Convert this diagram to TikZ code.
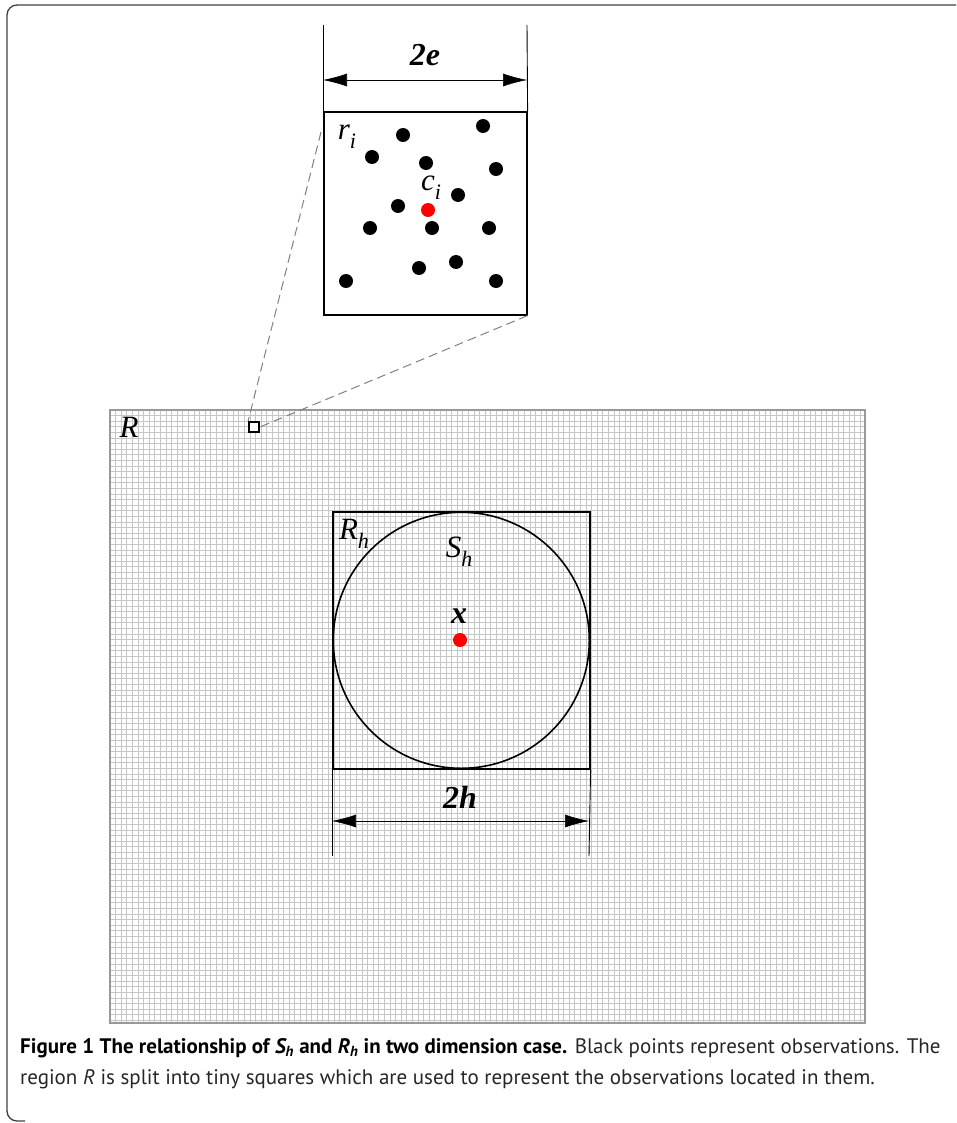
\documentclass[tikz,border=0pt]{standalone}
\usepackage{fontspec}
\setmainfont{Liberation Serif}
\newfontfamily\capfont{PT Sans}
\usetikzlibrary{arrows.meta}
\newcommand{\lblsub}[2]{\textit{#1}\raisebox{-0.28em}{\fontsize{22}{22}\selectfont\textit{#2}}}
\tikzset{
  obs/.style={circle,fill=black,inner sep=0pt,minimum size=14pt},
  redpt/.style={circle,fill=red,inner sep=0pt,minimum size=14pt},
  box/.style={draw=black,line width=1.6pt},
  dimline/.style={draw=black,line width=0.9pt},
  dimarrow/.style={draw=black,line width=0.6pt,{Latex[length=24pt,width=13pt]}-{Latex[length=24pt,width=13pt]}},
  lbl/.style={font=\fontsize{31}{31}\selectfont\itshape,inner sep=0pt},
  blbl/.style={font=\fontsize{32}{32}\selectfont\bfseries\itshape,inner sep=0pt},
  dashln/.style={draw=gray,line width=1pt,dash pattern=on 9pt off 5pt},
}
\begin{document}
\begin{tikzpicture}[x=1pt,y=-1pt]
\useasboundingbox (0,0) rectangle (956,1123);
% frame
\draw[line width=1.3pt,rounded corners=10pt,black!75] (956,5) -- (7,5) -- (7,1121) -- (25,1121);
% region R with grid
\fill[white] (110,410) rectangle (865,1023);
\foreach \i in {0,...,134} {\draw[gray!45,line width=0.9pt] ({110+5.6*\i},410) -- ({110+5.6*\i},1023);}
\foreach \j in {0,...,109} {\draw[gray!45,line width=0.9pt] (110,{410+5.6*\j}) -- (865,{410+5.6*\j});}
\draw[gray!80,line width=1.2pt] (110,410) rectangle (865,1023);
\node[lbl] (Rlab) at (129,427) {R};
% small square r_i in R
\node[draw=black,line width=1.8pt,minimum size=10pt,inner sep=0pt,fill=white] (small) at (254,427) {};
% inset square
\node[box,minimum size=203pt,inner sep=0pt,anchor=north west,fill=white] (inset) at (323,111) {};
\coordinate (dA) at (321,132);
\draw[dashln] (dA) -- (small.north west);
\draw[dashln] (inset.south east) -- (small.east);
% 2e dimension
\coordinate (eL) at (323,25);
\coordinate (eR) at (527,25);
\draw[dimline] (eL) -- (inset.north west);
\draw[dimline] (eR) -- (inset.north east);
\coordinate (eaL) at (323,80);
\coordinate (eaR) at (527,80);
\draw[dimarrow] (eaL) -- (eaR);
\node[blbl] (e2) at (425,55) {2e};
% inset points
\node[obs] (p1) at (403,135) {};
\node[obs] (p2) at (483,126) {};
\node[obs] (p3) at (372,157) {};
\node[obs] (p4) at (426,163) {};
\node[obs] (p5) at (496,169) {};
\node[obs] (p6) at (458,195) {};
\node[obs] (p7) at (398,206) {};
\node[obs] (p8) at (370,228) {};
\node[obs] (p9) at (432,228) {};
\node[obs] (p10) at (489,228) {};
\node[obs] (p11) at (456,262) {};
\node[obs] (p12) at (419,268) {};
\node[obs] (p13) at (346,281) {};
\node[obs] (p14) at (496,281) {};
\node[redpt] (ci) at (428,210) {};
\node[lbl] (rlab) at (347,137) {\lblsub{r}{i}};
\node[lbl] (clab) at (431,188) {\lblsub{c}{i}};
% R_h and S_h
\node[box,minimum size=257pt,inner sep=0pt,anchor=north west] (Rh) at (332,511) {};
\node[draw=black,line width=1.6pt,circle,minimum size=256pt,inner sep=0pt] (Sh) at (Rh.center) {};
\node[redpt] (x) at (460,640) {};
\node[blbl] (xlab) at (459,616) {x};
\node[lbl] (Rhlab) at (354,534) {\lblsub{R}{h}};
\node[lbl] (Shlab) at (459,552) {\lblsub{S}{h}};
% 2h dimension
\coordinate (hL) at (332,856);
\coordinate (hR) at (589,856);
\draw[dimline] (Rh.south west) -- (hL);
\draw[dimline] (Rh.south east) -- (hR);
\coordinate (haL) at (332,821);
\coordinate (haR) at (589,821);
\draw[dimarrow] (haL) -- (haR);
\node[blbl] (h2) at (460,797) {2h};
% caption
\node[anchor=north west,inner sep=0pt,align=left,font=\capfont\fontsize{21}{31}\selectfont,text=black!85] (cap) at (20,1038)
 {\textbf{\color{black}Figure 1 The relationship of \textit{S\textsubscript{h}} and \textit{R\textsubscript{h}} in two dimension case.} Black points represent observations. The\\
 region \textit{R} is split into tiny squares which are used to represent the observations located in them.};
\end{tikzpicture}
\end{document}
